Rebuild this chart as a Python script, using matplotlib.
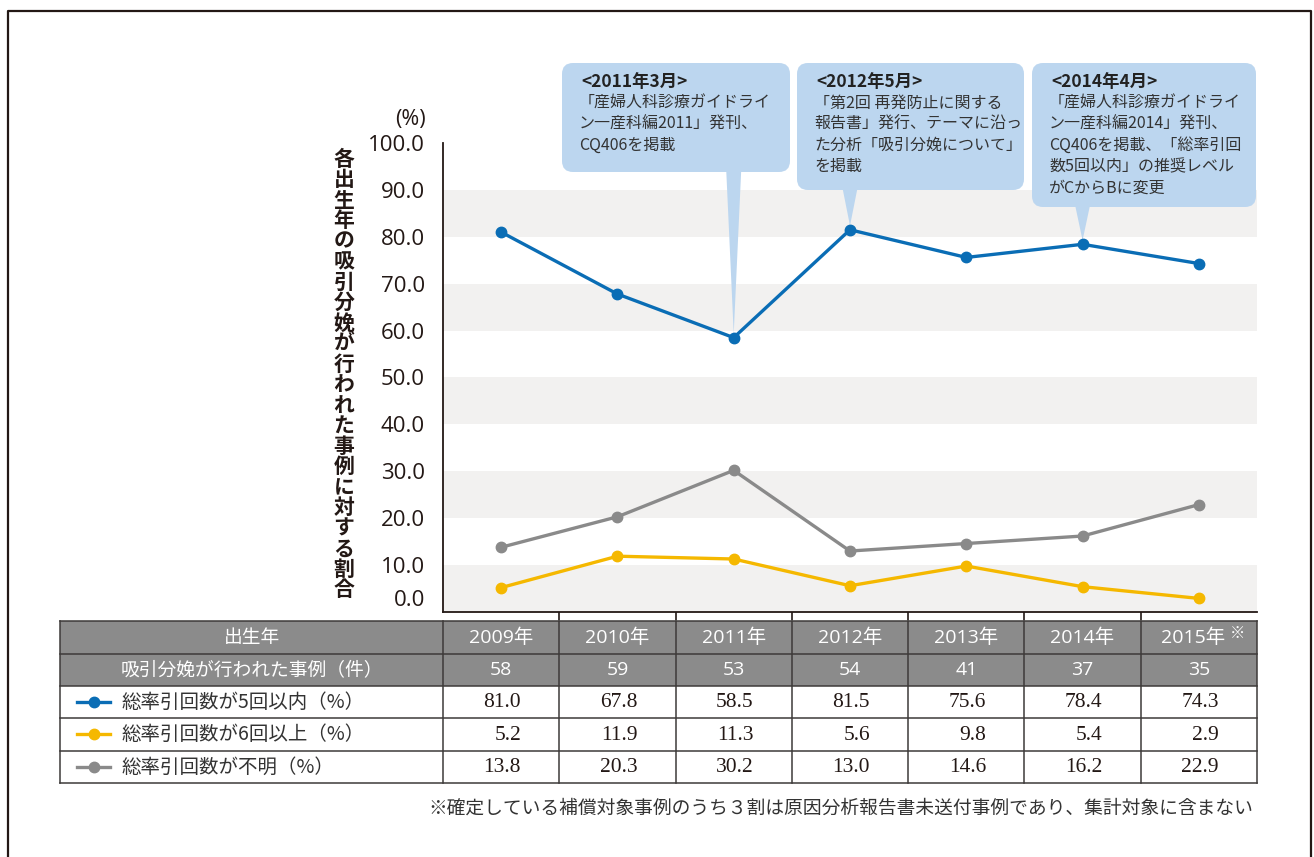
import matplotlib
matplotlib.use('Agg')
import matplotlib.pyplot as plt
import matplotlib.transforms as mtransforms
from matplotlib.patches import Rectangle, FancyBboxPatch, Polygon
from matplotlib.lines import Line2D

plt.rcParams['font.family'] = ['Noto Sans CJK JP', 'DejaVu Sans']
NUMFONT = ['Open Sans', 'Noto Sans CJK JP', 'DejaVu Sans']

# ---------------- data ----------------
years = ['2009年', '2010年', '2011年', '2012年', '2013年', '2014年', '2015年']
cases = [58, 59, 53, 54, 41, 37, 35]
within5 = [81.0, 67.8, 58.5, 81.5, 75.6, 78.4, 74.3]
over6 = [5.2, 11.9, 11.3, 5.6, 9.8, 5.4, 2.9]
unknown = [13.8, 20.3, 30.2, 13.0, 14.6, 16.2, 22.9]
yticks = [10, 20, 30, 40, 50, 60, 70, 80, 90, 100]

series_labels = ['総率引回数が5回以内（%）', '総率引回数が6回以上（%）', '総率引回数が不明（%）']
row_header = ['出生年', '吸引分娩が行われた事例（件）']
ylabel = '各出生年の吸引分娩が行われた事例に対する割合'
footnote = '※確定している補償対象事例のうち３割は原因分析報告書未送付事例であり、集計対象に含まない'

callout_titles = ['<2011年3月>', '<2012年5月>', '<2014年4月>']
callout_bodies = [
    ['「産婦人科診療ガイドライ', 'ン一産科編2011」発刊、', 'CQ406を掲載'],
    ['「第2回 再発防止に関する', '報告書」発行、テーマに沿っ', 'た分析「吸引分娩について」', 'を掲載'],
    ['「産婦人科診療ガイドライ', 'ン一産科編2014」発刊、', 'CQ406を掲載、「総率引回', '数5回以内」の推奨レベル', 'がCからBに変更'],
]
callout_index = [2, 3, 5]   # which year each callout points to

# ---------------- style ----------------
BLUE = '#0a6db5'
YELLOW = '#f5b800'
GRAY = '#8a8a8a'
BAND = '#f2f1f0'
CALL = '#bcd6ef'
DARK = '#231815'
TXT = '#333333'
HEAD = '#8b8b8b'

W, H = 1314, 857
fig = plt.figure(figsize=(W / 100, H / 100), dpi=100)
P = mtransforms.Affine2D().scale(1 / W, -1 / H).translate(0, 1) + fig.transFigure


def T(x, y, s, **kw):
    return fig.text(x, y, s, transform=P, **kw)


# frame
fig.add_artist(Line2D([8, 8, 1311, 1311], [857, 11, 11, 857], transform=P,
                      color=DARK, lw=1.6))

# ---------------- axes ----------------
ax = fig.add_axes([443 / W, 1 - 612 / H, (1257 - 443) / W, (612 - 143) / H])
xs = list(range(len(years)))
ax.set_xlim(-0.5, len(years) - 0.5)
ax.set_ylim(0, 100)
for lo in (0, 20, 40, 60, 80):
    ax.axhspan(lo, lo + 10, color=BAND, lw=0, zorder=0)

for vals, col in ((within5, BLUE), (over6, YELLOW), (unknown, GRAY)):
    ax.plot(xs, vals, color=col, lw=2.4, marker='o', ms=7.5, zorder=5,
            clip_on=False, solid_capstyle='round')

for s in ('top', 'right'):
    ax.spines[s].set_visible(False)
for s in ('left', 'bottom'):
    ax.spines[s].set_color(DARK)
    ax.spines[s].set_linewidth(1.3)
ax.set_xticks([i + 0.5 for i in xs[:-1]])
ax.set_xticklabels([])
ax.tick_params(axis='x', direction='out', length=6, width=1.2, color=DARK)
ax.set_yticks(yticks)
ax.set_yticklabels([f'{v:.1f}' for v in yticks], family=NUMFONT)
ax.tick_params(axis='y', length=0, pad=13, labelsize=16, labelcolor=DARK)
ax.annotate('0.0', xy=(0, 0), xycoords=('axes fraction', 'data'),
            xytext=(-13, 8.6), textcoords='offset points', ha='right',
            va='center', fontsize=16, color=DARK, family=NUMFONT)
T(410, 120, '(%)', ha='center', va='center', fontsize=15.5, color=DARK,
  family=NUMFONT)

# vertical y label (upright characters)
y0 = 159
pitch = (590 - y0) / (len(ylabel) - 1)
for k, ch in enumerate(ylabel):
    T(344, y0 + k * pitch, ch, ha='center', va='center', fontsize=15,
      fontweight='bold', color=DARK)

# ---------------- callouts ----------------
boxes = [(562, 63, 228, 109), (797, 63, 227, 127), (1032, 63, 224, 144)]
for (bx, by, bw, bh), title, body, idx in zip(boxes, callout_titles,
                                              callout_bodies, callout_index):
    ax.add_patch(FancyBboxPatch((bx, by), bw, bh,
                                boxstyle='round,pad=0,rounding_size=11',
                                transform=P, facecolor=CALL, edgecolor='none',
                                clip_on=False, zorder=3))
    tx, ty = ax.transData.transform((idx, within5[idx]))
    ty = H - ty
    ax.add_patch(Polygon([(tx - 7.5, by + bh - 2), (tx + 7.5, by + bh - 2), (tx, ty - 4)],
                         closed=True, transform=P, facecolor=CALL,
                         edgecolor='none', clip_on=False, zorder=3))
    lx = bx + 19
    T(lx, by + 19, title, ha='left', va='center', fontsize=12.5,
      fontweight='bold', color='#222222')
    for j, line in enumerate(body):
        T(lx - 2, by + 40 + j * 21.3, line, ha='left', va='center', fontsize=11.5,
          color=TXT)

# ---------------- table ----------------
tl, tr = 60, 1257
rows = [621, 654, 686, 718, 751, 783]
split = 443
centers = [ax.transData.transform((i, 0))[0] for i in xs]

for r in range(2):
    fig.add_artist(Rectangle((tl, rows[r]), tr - tl, rows[r + 1] - rows[r],
                             transform=P, facecolor=HEAD, edgecolor='none'))
LC = '#3d3a39'
for yv in rows:
    fig.add_artist(Line2D([tl, tr], [yv, yv], transform=P, color=LC, lw=1.1))
colx = [tl, split] + [ax.transData.transform((i + 0.5, 0))[0] for i in xs[:-1]] + [tr]
for xv in colx:
    fig.add_artist(Line2D([xv, xv], [rows[0], rows[-1]], transform=P,
                          color=LC, lw=1.1))

rc = [(rows[i] + rows[i + 1]) / 2 for i in range(5)]
T((tl + split) / 2, rc[0], row_header[0], ha='center', va='center',
  fontsize=13.5, color='white')
T((tl + split) / 2, rc[1], row_header[1], ha='center', va='center',
  fontsize=13.5, color='white')
for i, (yr, c) in enumerate(zip(years, cases)):
    cx = centers[i]
    if i == len(years) - 1:
        T(cx - 6, rc[0], yr, ha='center', va='center', fontsize=14,
          color='white', family=NUMFONT)
        T(cx + 31, rc[0] - 4, '※', ha='left', va='center', fontsize=11,
          color='white')
    else:
        T(cx, rc[0], yr, ha='center', va='center', fontsize=14,
          color='white', family=NUMFONT)
    T(cx, rc[1], str(c), ha='center', va='center', fontsize=14,
      color='white', family=NUMFONT)

for r, (vals, col, lab) in enumerate(zip((within5, over6, unknown),
                                         (BLUE, YELLOW, GRAY), series_labels)):
    yc = rc[2 + r]
    fig.add_artist(Line2D([77, 110], [yc, yc], transform=P, color=col, lw=2.4))
    fig.add_artist(Line2D([93.5], [yc], transform=P, color=col, marker='o', ms=7.5))
    T(122, yc, lab, ha='left', va='center', fontsize=14, color=TXT)
    for i, v in enumerate(vals):
        T(centers[i] + 20, yc + 1, f'{v:.1f}', ha='right', va='center',
          fontsize=15.5, family='Liberation Serif', color=DARK)

T(1253, 808, footnote, ha='right', va='center', fontsize=13.5, color=TXT)

fig.savefig('out.png', dpi=100)
